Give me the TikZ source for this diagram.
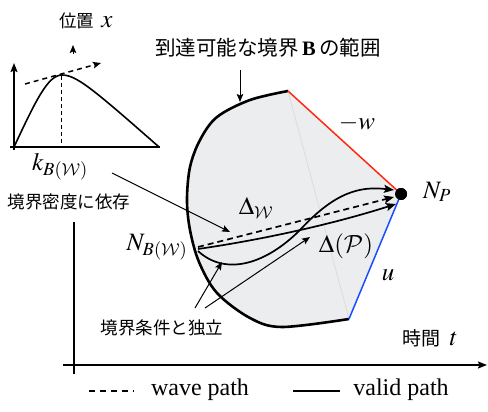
\documentclass[tikz,border=0pt]{standalone}
\usepackage{mathptmx}
\DeclareMathAlphabet{\mathcal}{OMS}{cmsy}{m}{n}
\usepackage{fontspec}
\setmainfont{Liberation Serif}
\newfontfamily\jp{Noto Sans CJK JP}
\usetikzlibrary{arrows.meta}
\definecolor{regionfill}{HTML}{ECEDEF}
\definecolor{faint}{HTML}{DADADA}
\definecolor{redline}{HTML}{FF2A10}
\definecolor{blueline}{HTML}{1A4DFF}
\tikzset{
  thinarr/.style={line width=1pt,-{Stealth[length=8pt,width=6.5pt,inset=1.5pt]}},
  patharr/.style={line width=1.7pt,-{Stealth[length=10pt,width=8pt,inset=2pt]}},
  axisarr/.style={line width=1.6pt,-{Stealth[length=9pt,width=7pt,inset=1.5pt]}},
  jptext/.style={font=\jp\fontsize{17.5}{19}\selectfont,inner sep=0},
  mlabel/.style={font=\fontsize{25}{27}\selectfont,inner sep=0},
  legtext/.style={font=\fontsize{24}{26}\selectfont,inner sep=0},
  dashedline/.style={dash pattern=on 6pt off 4pt},
}
\begin{document}
\begin{tikzpicture}[x=1pt,y=-1pt]
\useasboundingbox (0,0) rectangle (488,412);

% key points
\coordinate (A) at (288,91);
\coordinate (C) at (349,319);
\node[circle,fill=black,inner sep=0,minimum size=12pt] (NP) at (401,194) {};
\coordinate (S1) at (198,247);
\coordinate (S2) at (198,249);
\coordinate (S3) at (198,251);
\coordinate (E1) at (394,197);
\coordinate (E2) at (396,204);
\coordinate (E3) at (394,190);

% reachable region
\fill[regionfill] plot[smooth,tension=0.55] coordinates {(288,91) (250,100) (217,117) (200,140) (190,167) (187,200) (190,230) (199,262) (217,293) (250,318) (282,327) (349,319)} -- (NP.center) -- cycle;
\draw[faint,line width=0.7pt] (A) -- (C);
\draw[line width=2.6pt,line join=round] plot[smooth,tension=0.55] coordinates {(288,91) (250,100) (217,117) (200,140) (190,167) (187,200) (190,230) (199,262) (217,293) (250,318) (282,327) (349,319)};
\draw[redline,line width=1.5pt] (A) -- (NP.center);
\draw[blueline,line width=1.5pt] (NP.center) -- (C);

% paths
\draw[patharr,dashedline] (S1) -- (E1);
\draw[patharr] (S2) .. controls (260,240) and (330,225) .. (E2);
\draw[patharr] (S3) .. controls (225,276) and (265,265) .. (300,230) .. controls (335,192) and (360,186) .. (E3);
\node[circle,fill=black,inner sep=0,minimum size=12pt] at (NP) {};

% main axes
\coordinate (O1) at (74,374);
\coordinate (Ytop) at (74,222);
\coordinate (Xl) at (63,365);
\coordinate (Xr) at (487,365);
\draw[line width=1.6pt] (O1) -- (Ytop);
\draw[axisarr] (Xl) -- (Xr);

% inset graph
\coordinate (iO) at (14,150);
\coordinate (iY) at (14,63);
\coordinate (iXl) at (10,147);
\coordinate (iXr) at (160,147);
\draw[axisarr] (iO) -- (iY);
\draw[line width=1.6pt] (iXl) -- (iXr);
\draw[line width=1.6pt] (14,147) .. controls (36,100) and (48,75) .. (62,75) .. controls (76,75) and (92,88) .. (159,147);
\draw[line width=1pt,dash pattern=on 4pt off 3pt] (61,76) -- (61,147);
\coordinate (tg1) at (25,84);
\coordinate (tg2) at (101,63);
\draw[thinarr,line width=1.5pt,dash pattern=on 5pt off 4pt] (tg1) -- (tg2);
\coordinate (sa1) at (73,54);
\coordinate (sa2) at (73,45);
\draw[thinarr] (sa1) -- (sa2);

% labels
\node[jptext] (posx) at (86,21) {位置\hspace{0.4em}{\fontsize{25}{27}\selectfont$x$}};
\node[font=\jp\fontsize{20.5}{22}\selectfont,inner sep=0] (toplab) at (268,48) {到達可能な境界\,{\rmfamily\bfseries B}\,の範囲};
\coordinate (ta1) at (240,70);
\coordinate (ta2) at (240,102);
\draw[thinarr] (ta1) -- (ta2);

\node[mlabel] (kB) at (60,167) {$k_{B(\mathcal{W})}$};
\node[jptext] (dens) at (69,202) {境界密度に依存};
\coordinate (ka1) at (112,173);
\coordinate (ka2) at (230,232);
\draw[thinarr] (ka1) -- (ka2);

\node[mlabel] (NB) at (157,247) {$N_{B(\mathcal{W})}$};
\node[mlabel] (DW) at (256,208) {$\Delta_{\mathcal{W}}$};
\node[mlabel] (DP) at (346,246) {$\Delta(\mathcal{P})$};
\node[mlabel] (uu) at (388,275) {$u$};
\node[mlabel] (mw) at (357,123) {$-w$};
\node[mlabel] (NPl) at (437,192) {$N_P$};

\node[jptext] (indep) at (162,328) {境界条件と独立};
\coordinate (ia1) at (195,308);
\coordinate (ia2) at (222,262);
\coordinate (ib1) at (205,308);
\coordinate (ib2) at (310,237);
\draw[thinarr] (ia1) -- (ia2);
\draw[thinarr] (ib1) -- (ib2);

\node[font=\jp\fontsize{19}{21}\selectfont,inner sep=0] (time) at (430,338) {時間\hspace{0.5em}{\fontsize{25}{27}\selectfont$t$}};

% legend
\coordinate (lw1) at (89,391);
\coordinate (lw2) at (134,391);
\draw[line width=1.6pt,dash pattern=on 6pt off 5pt] (lw1) -- (lw2);
\node[legtext] (wave) at (200,390) {wave path};
\coordinate (lv1) at (293,391);
\coordinate (lv2) at (340,391);
\draw[line width=1.6pt] (lv1) -- (lv2);
\node[legtext] (valid) at (401,390) {valid path};
\end{tikzpicture}
\end{document}
